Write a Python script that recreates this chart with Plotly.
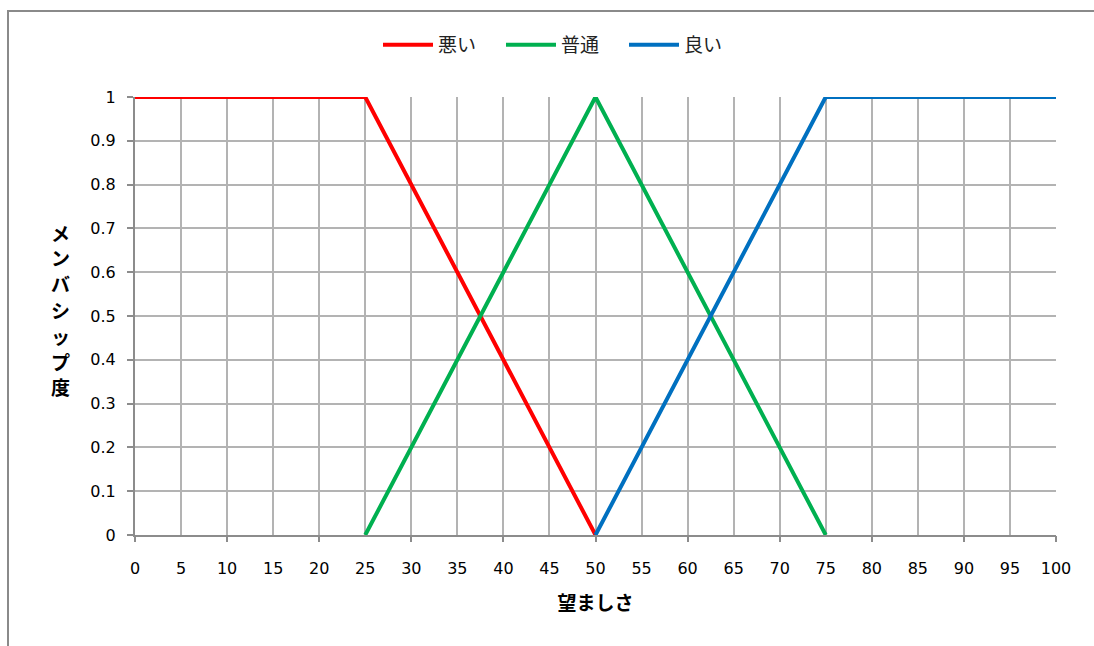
import plotly.graph_objects as go

# data
bad_x = [0, 25, 50]
bad_y = [1, 1, 0]
mid_x = [25, 50, 75]
mid_y = [0, 1, 0]
good_x = [50, 75, 100]
good_y = [0, 1, 1]
series_names = ["悪い", "普通", "良い"]
colors = ["#ff0000", "#00b050", "#0070c0"]
x_title = "望ましさ"
y_title = "メンバシップ度"

JP = "Noto Sans CJK JP"
NUM = "DejaVu Sans"

fig = go.Figure()
for (xs, ys), name, c in zip([(bad_x, bad_y), (mid_x, mid_y), (good_x, good_y)], series_names, colors):
    fig.add_trace(go.Scatter(x=xs, y=ys, mode="lines", name=name,
                             line=dict(color=c, width=4), cliponaxis=False))

W, H = 1094, 646
L, R, T, B = 135, 38, 97, 111
PW, PH = W - L - R, H - T - B

grid = "#b3b3b3"
axc = "#8c8c8c"

fig.update_layout(
    width=W, height=H,
    margin=dict(l=L, r=R, t=T, b=B),
    paper_bgcolor="white", plot_bgcolor="white",
    showlegend=True,
    legend=dict(orientation="h", x=(378 - L) / PW, xanchor="left", y=(535 - 45) / PH, yanchor="middle",
                font=dict(family=JP, size=19, color="#222"), bgcolor="rgba(0,0,0,0)",
                itemwidth=50, entrywidth=58, entrywidthmode="pixels",
                tracegroupgap=0, itemclick=False),
    xaxis=dict(range=[0, 100], dtick=5, tick0=0, showgrid=True, gridcolor=grid, gridwidth=2,
               showline=True, linecolor=axc, linewidth=2, ticks="", zeroline=False,
               ticklabelstandoff=18,
               tickfont=dict(family=NUM, size=16, color="black"),
               title=dict(text="<b>" + x_title + "</b>", font=dict(family=JP, size=19, color="black"),
                          standoff=19)),
    xaxis2=dict(range=[0, 100], dtick=10, tick0=0, overlaying="x", anchor="y", side="bottom",
                showgrid=False, showline=False, ticks="outside", ticklen=6, tickwidth=2,
                tickcolor=axc, showticklabels=False, zeroline=False),
    yaxis=dict(range=[0, 1], dtick=0.1, tick0=0, showgrid=True, gridcolor=grid, gridwidth=2,
               showline=True, linecolor=axc, linewidth=2, ticks="outside", ticklen=6,
               tickwidth=2, tickcolor=axc, zeroline=False,
               tickformat="~g", ticklabelstandoff=8,
               tickfont=dict(family=NUM, size=16, color="black")),
)

# dummy invisible trace to make xaxis2 render
fig.add_trace(go.Scatter(x=[0], y=[0], xaxis="x2", yaxis="y", mode="markers",
                         marker=dict(opacity=0), showlegend=False, hoverinfo="skip"))

# vertical stacked y-axis title, one character per line
for i, ch in enumerate(y_title):
    py = 232 + 25.8 * i
    fig.add_annotation(text="<b>" + ch + "</b>", xref="paper", yref="paper",
                       x=(60 - L) / PW, y=(535 - py) / PH, xanchor="center", yanchor="middle",
                       showarrow=False, font=dict(family=JP, size=19, color="black"))

# outer chart border (left/top)
fig.add_shape(type="rect", xref="paper", yref="paper",
              x0=(8 - L) / PW, x1=1.2, y0=-0.4,
              y1=(H - B - 11) / PH,
              line=dict(color="#8a8a8a", width=2), fillcolor="rgba(0,0,0,0)", layer="below")

fig.write_html("out.html")
